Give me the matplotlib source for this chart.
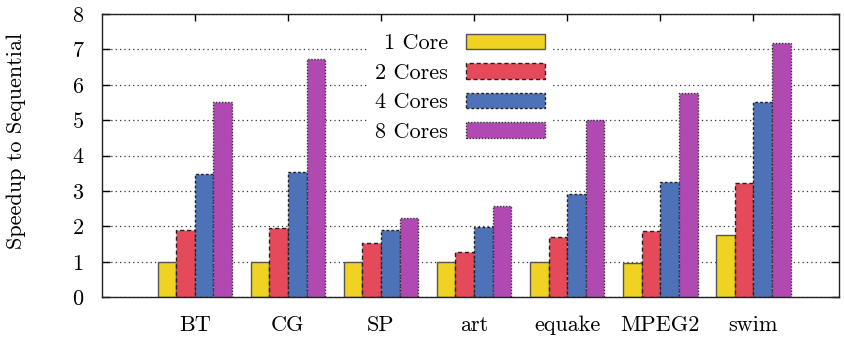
import matplotlib
matplotlib.use("Agg")
import matplotlib.pyplot as plt
import numpy as np
from matplotlib.patches import Patch

benchmarks = ["BT", "CG", "SP", "art", "equake", "MPEG2", "swim"]
series_names = ["1 Core", "2 Cores", "4 Cores", "8 Cores"]
core1 = [1.00, 1.01, 0.99, 1.00, 0.99, 0.98, 1.75]
core2 = [1.90, 1.96, 1.52, 1.28, 1.70, 1.87, 3.22]
core4 = [3.47, 3.54, 1.90, 1.99, 2.92, 3.25, 5.51]
core8 = [5.52, 6.74, 2.25, 2.57, 5.01, 5.76, 7.19]
yticks = [0, 1, 2, 3, 4, 5, 6, 7, 8]

colors = ["#f0d223", "#e44a5a", "#4e72b8", "#b04ab2"]
edgecolors = ["#555555", "#222222", "#222222", "#333333"]
linestyles = ["solid", (0, (3, 2)), (0, (2, 1.5)), (0, (1, 1.2))]

plt.rcParams["font.family"] = ["cmr10", "DejaVu Serif"]
plt.rcParams["mathtext.fontset"] = "cm"
plt.rcParams["axes.formatter.use_mathtext"] = True

FS = 16

fig = plt.figure(figsize=(8.44, 3.43), dpi=100)
ax = fig.add_axes([0.1205, 0.1332, 0.9941 - 0.1205, 0.9592 - 0.1332])

x = np.arange(len(benchmarks))
width = 0.2
all_series = [core1, core2, core4, core8]
for j, vals in enumerate(all_series):
    ax.bar(x + (j - 1.5) * width, vals, width=width, color=colors[j],
           edgecolor=edgecolors[j], linewidth=1.0, linestyle=linestyles[j],
           zorder=2)

ax.set_xlim(-1.0, 6.92)
ax.set_ylim(0, 8)
ax.set_yticks(yticks)
ax.set_yticklabels([str(t) for t in yticks])
ax.set_xticks(x)
ax.set_xticklabels(benchmarks)
ax.set_axisbelow(True)
ax.grid(axis="y", linestyle=(0, (1, 2.5)), color="#333333", linewidth=0.9)

ax.tick_params(axis="y", direction="in", length=5.8, width=1.0, labelsize=FS,
               pad=13, right=True, left=True)
ax.tick_params(axis="x", direction="in", length=5.0, width=1.0, labelsize=FS,
               pad=13, top=True, bottom=True)
for s in ax.spines.values():
    s.set_linewidth(1.0)
    s.set_color("#222222")

ax.set_ylabel("Speedup to Sequential", fontsize=FS)
ax.yaxis.set_label_coords(-0.1027, 0.552)

handles = [Patch(facecolor=colors[j], edgecolor=edgecolors[j], linewidth=1.0,
                 linestyle=linestyles[j]) for j in range(4)]
leg = ax.legend(handles, series_names, loc="upper right",
                bbox_to_anchor=(0.6255, 0.993), markerfirst=False,
                fontsize=FS, handlelength=3.56, handleheight=0.68,
                handletextpad=0.81, labelspacing=0.45, borderpad=0.3,
                frameon=True, fancybox=False, framealpha=1.0)
leg.get_frame().set_edgecolor("none")
leg.get_frame().set_facecolor("white")
leg.set_zorder(3)

fig.savefig("out.png", dpi=100)
